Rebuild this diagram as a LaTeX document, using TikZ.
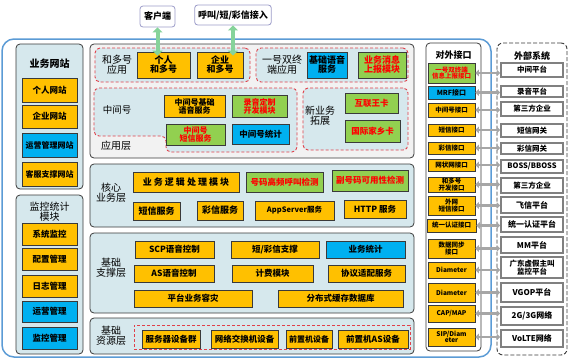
\documentclass[tikz,border=0pt]{standalone}
\usepackage{fontspec}
\setmainfont{Noto Sans CJK SC}
\usetikzlibrary{arrows.meta}

\definecolor{orgfill}{HTML}{FFC000}
\definecolor{grnfill}{HTML}{92D050}
\definecolor{cyanfill}{HTML}{00B0F0}
\definecolor{panelfill}{HTML}{D6E8ED}
\definecolor{appfill}{HTML}{F2F2F2}
\definecolor{outerblue}{HTML}{5B9BD5}
\definecolor{arrgreen}{HTML}{86D39A}
\definecolor{arrgray}{HTML}{A6A6A6}
\definecolor{edgedark}{HTML}{3A3A3A}
\definecolor{dashred}{HTML}{E0404A}
\newcommand{\fsz}[1]{\fontsize{#1}{#1}\selectfont}

\tikzset{
  sz/.style 2 args={minimum width=#1, minimum height=#2},
  blk/.style={draw=edgedark, line width=0.7pt, inner sep=0.5pt, align=center,
    font=\bfseries\fsz{8.5}},
  obox/.style={blk, fill=orgfill},
  gbox/.style={blk, fill=grnfill, text=red},
  cbox/.style={blk, fill=cyanfill},
  panel/.style={draw=edgedark, line width=0.8pt, fill=panelfill, rounded corners=4},
  dregion/.style={draw=dashred, dash pattern=on 3pt off 2pt, line width=0.9pt,
    fill=panelfill, rounded corners=5},
  lbl/.style={align=center, font=\fsz{10}},
  ttl/.style={align=center, font=\bfseries\fsz{9.5}},
  itf/.style={obox, font=\bfseries\fsz{6.5}},
  ext/.style={draw=gray, line width=1.5pt, fill=white, inner sep=0.5pt, align=center,
    font=\bfseries\fsz{7.5}},
  top/.style={draw=gray!70!blue!60, line width=0.8pt, fill=white, rounded corners=3,
    font=\bfseries\fsz{9}},
  garrow/.style={arrgreen, line width=4pt,
    {Triangle[width=10pt,length=5pt]}-{Triangle[width=10pt,length=5pt]}},
  darrow/.style={arrgray, line width=2.5pt,
    {Triangle[width=6.5pt,length=3.5pt]}-{Triangle[width=6.5pt,length=3.5pt]}}
}

\begin{document}
\begin{tikzpicture}[x=1pt, y=-1pt]
  \useasboundingbox (0,0) rectangle (573,362);

  % access points on top
  \node[top, sz={35}{21}] (khd) at (157.5,16.5) {客户端};
  \node[top, sz={72}{20}] (hj) at (233,15) {呼叫/短/彩信接入};

  % platform frame
  \node[draw=outerblue, line width=1.5pt, rounded corners=12, sz={489}{318}] (frame)
    at (246.5,198) {};

  % left column
  \node[panel, sz={67}{145}] (web) at (49.5,116.5) {};
  \node[ttl, font=\bfseries\fsz{10}] (webttl) at (49.5,64) {业务网站};
  \node[obox, sz={55}{24}] (grwz) at (49.5,90) {个人网站};
  \node[obox, sz={55}{23}] (qywz) at (49.5,116.5) {企业网站};
  \node[cbox, sz={55}{24}, font=\bfseries\fsz{8}] (yywz) at (49.5,145) {运营管理网站};
  \node[obox, sz={55}{24}, font=\bfseries\fsz{8}] (kfwz) at (49.5,174) {客服支撑网站};

  \node[panel, sz={67}{159}] (mon) at (49.5,274.5) {};
  \node[lbl] (monttl) at (49.5,212) {监控统计\\模块};
  \node[obox, sz={55}{22}] (xtjk) at (49.5,234) {系统监控};
  \node[obox, sz={55}{22}] (pzgl) at (49.5,259) {配置管理};
  \node[obox, sz={55}{22}] (rzgl) at (49.5,286) {日志管理};
  \node[cbox, sz={55}{21}] (yygl) at (49.5,311.5) {运营管理};
  \node[cbox, sz={55}{22}] (jkgl) at (49.5,338) {监控管理};

  % application layer
  \node[panel, fill=appfill, sz={324}{114}] (app) at (252,101) {};
  \node[dregion, sz={155}{34}] (hdhreg) at (172.5,65) {};
  \node[lbl] (hdhlbl) at (117,65) {和多号\\应用};
  \node[obox, sz={53}{26}, font=\bfseries\fsz{9}] (grhdh) at (163.5,65) {个人\\和多号};
  \node[obox, sz={46}{26}, font=\bfseries\fsz{9}] (qyhdh) at (220,65) {企业\\和多号};
  \node[dregion, sz={152}{34}] (yszreg) at (332,65) {};
  \node[lbl] (yszlbl) at (282,65) {一号双终\\端应用};
  \node[cbox, sz={40}{26}, font=\bfseries\fsz{9}] (jcyy) at (327,65) {基础语音\\服务};
  \node[gbox, sz={48}{26}, font=\bfseries\fsz{9}] (ywxx) at (382,65) {业务消息\\上报模块};
  \draw[dregion] (94,88) -- (297,88) -- (297,152) -- (166,152) -- (166,136)
    -- (94,136) -- cycle;
  \node[lbl, font=\fsz{9.5}] (zjhlbl) at (117,110) {中间号};
  \node[obox, sz={61}{22}, font=\bfseries\fsz{8}] (zjhjc) at (194.5,106) {中间号基础\\语音服务};
  \node[gbox, sz={55}{22}, font=\bfseries\fsz{8}] (lydz) at (259.5,106) {录音定制\\开发模块};
  \node[gbox, sz={59}{21}, font=\bfseries\fsz{8}] (zjhdx) at (195.5,134.5) {中间号\\短信服务};
  \node[cbox, sz={57}{20}] (zjhtj) at (260.5,134) {中间号统计};
  \node[dregion, sz={105}{62}] (xywreg) at (355.5,119) {};
  \node[lbl] (xywlbl) at (320,116) {新业务\\拓展};
  \node[gbox, sz={53}{20}] (hlwk) at (371.5,103) {互联王卡};
  \node[gbox, sz={55}{22}] (gjjx) at (372.5,131) {国际家乡卡};
  \node[lbl] (applbl) at (116,146) {应用层};

  % core service layer
  \node[panel, sz={324}{63}] (core) at (252,195.5) {};
  \node[lbl] (corelbl) at (111,193) {核心\\业务层};
  \node[obox, sz={106}{20}, font=\bfseries\fsz{9}] (ywlj) at (186,182)
    {业 务 逻 辑 处 理 模 块};
  \node[gbox, sz={77}{20}] (hmgp) at (284.5,182) {号码高频呼叫检测};
  \node[gbox, sz={76}{21}] (fhm) at (370,180.5) {副号码可用性检测};
  \node[obox, sz={47}{18}, font=\bfseries\fsz{9}] (dxfw) at (156.5,211) {短信服务};
  \node[obox, sz={46}{19}, font=\bfseries\fsz{9}] (cxfw) at (220,210.5) {彩信服务};
  \node[obox, sz={79}{19}, font=\bfseries\fsz{7.5}] (appsv) at (294.5,210.5) {AppServer服务};
  \node[obox, sz={62}{18}] (http) at (375,209) {HTTP 服务};

  % support layer
  \node[panel, sz={324}{80}] (supp) at (252,273) {};
  \node[lbl] (supplbl) at (111,268) {基础\\支撑层};
  \node[obox, sz={79}{17}] (scp) at (174.5,249.5) {SCP语音控制};
  \node[obox, sz={88}{17}] (dcx) at (275,249.5) {短/彩信支撑};
  \node[cbox, sz={79}{17}] (ywtj) at (365.5,249.5) {业务统计};
  \node[obox, sz={80}{17}] (asyy) at (174,273.5) {AS语音控制};
  \node[obox, sz={81}{17}] (jfmk) at (272.5,273.5) {计费模块};
  \node[obox, sz={77}{17}] (xysp) at (366.5,273.5) {协议适配服务};
  \node[obox, sz={118}{17}] (ptzr) at (193,298.5) {平台业务容灾};
  \node[obox, sz={125}{17}] (fbs) at (340.5,298.5) {分布式缓存数据库};

  % resource layer
  \node[panel, sz={324}{36}] (res) at (252,336) {};
  \node[lbl] (reslbl) at (111,336) {基础\\资源层};
  \node[dregion, fill=none, rounded corners=0, sz={276}{24}] (resreg) at (272,337) {};
  \node[obox, sz={58}{18}] (fwq) at (171,339) {服务器设备群};
  \node[obox, sz={67}{18}] (wljh) at (244.5,339) {网络交换机设备};
  \node[obox, sz={46}{18}, font=\bfseries\fsz{8}] (qzj) at (309,339) {前置机设备};
  \node[obox, sz={70}{18}] (qzjas) at (373,339) {前置机AS设备};

  % interfaces
  \node[panel, fill=white, sz={55}{308}] (itfs) at (453.5,197) {};
  \node[ttl, font=\bfseries\fsz{9}] (itfttl) at (453.5,55) {对外接口};
  \node[itf, fill=grnfill, text=red, sz={47}{20}] (i1) at (451.5,73) {一号双终端\\信息上报接口};
  \node[itf, fill=cyanfill, font=\bfseries\fsz{7}, sz={47}{13}] (i2) at (451.5,92.5) {MRF接口};
  \node[itf, sz={47}{14}] (i3) at (451.5,110) {中间号接口};
  \node[itf, sz={47}{12}] (i4) at (451.5,130) {短信接口};
  \node[itf, sz={47}{12}] (i5) at (451.5,148) {彩信接口};
  \node[itf, sz={47}{12}] (i6) at (451.5,165) {网状网接口};
  \node[itf, sz={47}{15}] (i7) at (451.5,184.5) {和多号\\开发接口};
  \node[itf, sz={47}{19}] (i8) at (451.5,205.5) {外网\\短信接口};
  \node[itf, sz={49}{13}] (i9) at (451.5,225.5) {统一认证接口};
  \node[itf, sz={47}{19}] (i10) at (451.5,248.5) {数据同步\\接口};
  \node[itf, sz={47}{16}] (i11) at (451.5,270) {Diameter};
  \node[itf, sz={47}{19}] (i12) at (451.5,292.5) {Diameter};
  \node[itf, sz={47}{17}] (i13) at (451.5,313.5) {CAP/MAP};
  \node[itf, sz={47}{18}] (i14) at (451.5,337) {SIP/Diam\\eter};

  % external systems
  \node[draw=edgedark, dash pattern=on 4pt off 2pt, line width=0.9pt, rounded corners=6,
    sz={70}{312}] (exts) at (532,199) {};
  \node[ttl, font=\bfseries\fsz{9}] (extttl) at (532,56) {外部系统};
  \node[ext, sz={62}{14}] (e1) at (532,70) {中间平台};
  \node[ext, sz={62}{11}] (e2) at (532,91.5) {录音平台};
  \node[ext, sz={62}{14}] (e3) at (532,109) {第三方企业};
  \node[ext, sz={62}{13}] (e4) at (532,130.5) {短信网关};
  \node[ext, sz={62}{11}] (e5) at (532,148.5) {彩信网关};
  \node[ext, sz={62}{13}] (e6) at (532,166.5) {BOSS/BBOSS};
  \node[ext, sz={62}{15}] (e7) at (532,185.5) {第三方企业};
  \node[ext, sz={62}{16}, font=\bfseries\fsz{8}] (e8) at (532,205) {飞信平台};
  \node[ext, sz={62}{15}, font=\bfseries\fsz{8}] (e9) at (532,224.5) {统一认证平台};
  \node[ext, sz={62}{16}, font=\bfseries\fsz{8}] (e10) at (532,245) {MM平台};
  \node[ext, sz={62}{21}] (e11) at (532,267.5) {广东虚假主叫\\监控平台};
  \node[ext, sz={62}{19}, font=\bfseries\fsz{8}] (e12) at (532,292.5) {VGOP平台};
  \node[ext, sz={62}{18}, font=\bfseries\fsz{8}] (e13) at (532,316) {2G/3G网络};
  \node[ext, sz={62}{17}, font=\bfseries\fsz{8}] (e14) at (532,338.5) {VoLTE网络};

  % links
  \draw[garrow] (khd.south) -- ([yshift=-4pt]khd.south |- grhdh.north);
  \draw[garrow] (hj.south) -- ([yshift=-4pt]hj.south |- qyhdh.north);
  \foreach \n in {1,...,14}
    \draw[darrow] (i\n.east) -- (i\n.east -| e\n.west);
\end{tikzpicture}
\end{document}
